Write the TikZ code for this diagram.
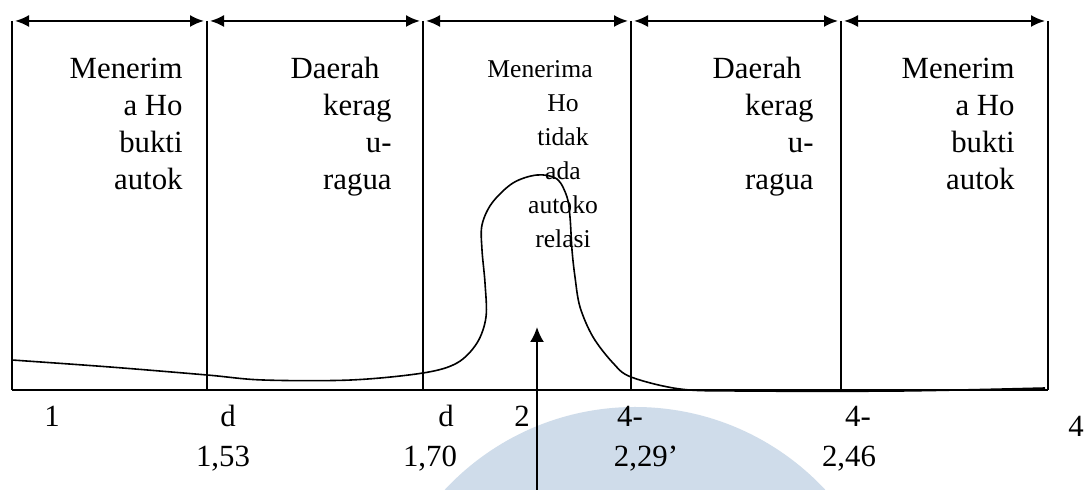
\documentclass[tikz,border=0pt]{standalone}
\usepackage{fontspec}
\setmainfont{Liberation Serif}
\usetikzlibrary{arrows.meta}

\definecolor{markblue}{RGB}{207,220,234}

\begin{document}
\begin{tikzpicture}[
	x=0.5pt, y=-0.5pt,
	frameline/.style={line width=1pt},
	dimarrow/.style={{Latex[length=7pt, width=6pt]}-{Latex[length=7pt, width=6pt]}, line width=1pt, shorten <=1.5pt, shorten >=1.5pt},
	risearrow/.style={-{Latex[length=7.5pt, width=7pt]}, line width=1pt},
	densitycurve/.style={line width=0.8pt},
	regiontext/.style={inner sep=0pt, anchor=north east, align=right, font=\fontsize{15.4}{18.5}\selectfont},
	midtext/.style={inner sep=0pt, anchor=north, align=center, font=\fontsize{12.8}{17}\selectfont},
	axislabel/.style={inner sep=0pt, anchor=base, font=\fontsize{15.4}{18.5}\selectfont}
	]

	\useasboundingbox[fill=white] (0,0) rectangle (1087,490);

	% watermark in the scan
	\begin{scope}
		\clip (0,0) rectangle (1087,490);
		\fill[markblue] (635,667) circle[radius=260];
	\end{scope}

	% region borders
	\coordinate (b0) at (12,21);
	\coordinate (b1) at (207,21);
	\coordinate (b2) at (423,21);
	\coordinate (b3) at (631,21);
	\coordinate (b4) at (841,21);
	\coordinate (b5) at (1048,21);
	\coordinate (f0) at (12,390);
	\coordinate (f1) at (207,390);
	\coordinate (f2) at (423,390);
	\coordinate (f3) at (631,390);
	\coordinate (f4) at (841,390);
	\coordinate (f5) at (1048,390);

	\draw[frameline] (b0) -- (f0);
	\draw[frameline] (b1) -- (f1);
	\draw[frameline] (b2) -- (f2);
	\draw[frameline] (b3) -- (f3);
	\draw[frameline] (b4) -- (f4);
	\draw[frameline] (b5) -- (f5);
	\draw[frameline] (f0) -- (f5);

	\draw[dimarrow] (b0) -- (b1);
	\draw[dimarrow] (b1) -- (b2);
	\draw[dimarrow] (b2) -- (b3);
	\draw[dimarrow] (b3) -- (b4);
	\draw[dimarrow] (b4) -- (b5);

	% distribution curve
	\draw[densitycurve] plot[smooth, tension=0.55] coordinates {
		(12,360) (110,367) (207,375) (263,380) (351,380) (423,373)
		(457,363) (477,343) (486,317) (485,283) (482,250) (482,225)
		(492,203) (513,183) (537,175) (557,179) (567,197) (570,217)
		(572,250) (575,277) (580,307) (593,337) (613,363) (631,377)
		(680,389) (740,391) (900,391) (1045,388)};

	% region texts
	\node[regiontext] (accleft) at (183,58) {Menerim\\a Ho\\bukti\\autok};
	\node[regiontext] (doubtleft) at (392,57) {Daerah\hspace*{6pt}\\kerag\\u-\hspace*{15pt}\\ragua};
	\node[midtext] (accmid) at (563,60) {Menerima\hspace*{23pt}\\Ho\\tidak\\ada\\autoko\\relasi};
	\node[regiontext] (doubtright) at (814,57) {Daerah\hspace*{6pt}\\kerag\\u-\hspace*{15pt}\\ragua};
	\node[regiontext] (accright) at (1015,58) {Menerim\\a Ho\\bukti\\autok};

	% arrow at the centre value
	\coordinate (arrbase) at (537,490);
	\coordinate (arrtip) at (537,327);
	\draw[risearrow] (arrbase) -- (arrtip);

	% values under the axis
	\node[axislabel] (zero) at (52,427) {1};
	\node[axislabel] (dlow) at (228,427) {d};
	\node[axislabel] (dlowval) at (223,467) {1,53};
	\node[axislabel] (dup) at (446,427) {d};
	\node[axislabel] (dupval) at (430,467) {1,70};
	\node[axislabel] (two) at (522,427) {2};
	\node[axislabel] (fdup) at (630,427) {4-};
	\node[axislabel] (fdupval) at (646,467) {2,29'};
	\node[axislabel] (fdlow) at (858,427) {4-};
	\node[axislabel] (fdlowval) at (849,467) {2,46};
	\node[axislabel] (four) at (1076,437) {4};

\end{tikzpicture}
\end{document}
